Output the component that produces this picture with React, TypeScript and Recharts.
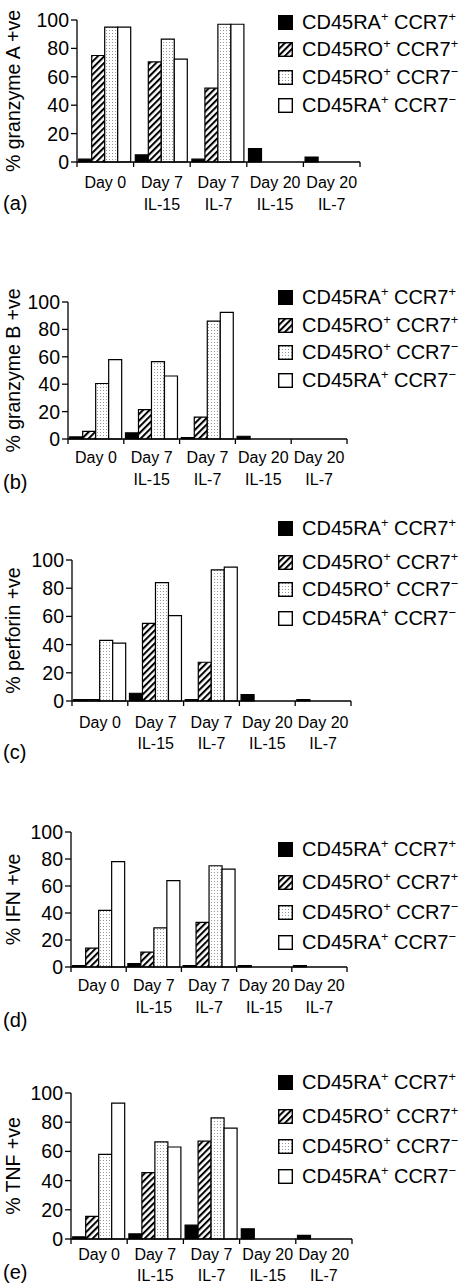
import { Bar, BarChart, XAxis, YAxis } from 'recharts'

const categories = ['Day 0', 'Day 7 IL-15', 'Day 7 IL-7', 'Day 20 IL-15', 'Day 20 IL-7']
const dayLines = ['Day 0', 'Day 7', 'Day 7', 'Day 20', 'Day 20']
const cytokineLines = ['', 'IL-15', 'IL-7', 'IL-15', 'IL-7']
const yTicks = [0, 20, 40, 60, 80, 100]

const seriesKeys = ['raPos', 'roPos', 'roNeg', 'raNeg']
const seriesMarkers = ['CD45RA', 'CD45RO', 'CD45RO', 'CD45RA']
const seriesCd45Sign = ['+', '+', '+', '+']
const seriesCcr7Sign = ['+', '+', '−', '−']

// granzyme A
const granzymeARaPos = [2, 5, 2, 9.5, 3.5]
const granzymeARoPos = [75, 70.5, 52, 0, 0]
const granzymeARoNeg = [95, 86.5, 97, 0, 0]
const granzymeARaNeg = [95, 72.5, 97, 0, 0]

// granzyme B
const granzymeBRaPos = [1.5, 4.5, 1, 2, 0]
const granzymeBRoPos = [5.5, 21.5, 16, 0, 0]
const granzymeBRoNeg = [40.5, 56.5, 86, 0, 0]
const granzymeBRaNeg = [58, 46, 92.5, 0, 0]

// perforin
const perforinRaPos = [1, 5.5, 1, 4.5, 1]
const perforinRoPos = [1, 55, 27.5, 0, 0]
const perforinRoNeg = [43, 84, 93, 0, 0]
const perforinRaNeg = [41, 60.5, 95, 0, 0]

// IFN
const ifnRaPos = [1, 2.5, 1, 1, 1]
const ifnRoPos = [14, 11, 33, 0, 0]
const ifnRoNeg = [42, 29, 75, 0, 0]
const ifnRaNeg = [78, 64, 72.5, 0, 0]

// TNF
const tnfRaPos = [1.5, 3.5, 9.5, 7, 2.5]
const tnfRoPos = [15.5, 45.5, 67, 0, 0]
const tnfRoNeg = [58, 66.5, 83, 0, 0]
const tnfRaNeg = [93, 63, 76, 0, 0]

const FONT = '"Liberation Sans", Arial, Helvetica, sans-serif'
const fills = ['#000', 'url(#hatchFill)', 'url(#dotFill)', '#fff']
const TOP_PAD = 30

type Panel = {
  letter: string
  yLabel: string
  values: number[][]
  axisX: number
  plotTop: number
  plotBottom: number
  plotRight: number
  legendY: number[]
  letterY: number
  labelDy: [number, number]
}

const panels: Panel[] = [
  {
    letter: '(a)', yLabel: '% granzyme A +ve',
    values: [granzymeARaPos, granzymeARoPos, granzymeARoNeg, granzymeARaNeg],
    axisX: 77, plotTop: 20, plotBottom: 162, plotRight: 360,
    legendY: [22, 49, 77, 105], letterY: 203, labelDy: [20, 42],
  },
  {
    letter: '(b)', yLabel: '% granzyme B +ve',
    values: [granzymeBRaPos, granzymeBRoPos, granzymeBRoNeg, granzymeBRaNeg],
    axisX: 68, plotTop: 302, plotBottom: 439, plotRight: 347,
    legendY: [297, 325, 352, 380], letterY: 482, labelDy: [18, 40],
  },
  {
    letter: '(c)', yLabel: '% perforin +ve',
    values: [perforinRaPos, perforinRoPos, perforinRoNeg, perforinRaNeg],
    axisX: 72, plotTop: 560, plotBottom: 701, plotRight: 351,
    legendY: [528, 562, 589, 618], letterY: 752, labelDy: [21, 42],
  },
  {
    letter: '(d)', yLabel: '% IFN +ve',
    values: [ifnRaPos, ifnRoPos, ifnRoNeg, ifnRaNeg],
    axisX: 71, plotTop: 832, plotBottom: 967, plotRight: 347,
    legendY: [849, 882, 912, 942], letterY: 1020, labelDy: [18, 40],
  },
  {
    letter: '(e)', yLabel: '% TNF +ve',
    values: [tnfRaPos, tnfRoPos, tnfRoNeg, tnfRaNeg],
    axisX: 71, plotTop: 1093, plotBottom: 1239, plotRight: 352,
    legendY: [1082, 1116, 1146, 1176], letterY: 1272, labelDy: [15, 36],
  },
]

function PatternDefs() {
  return (
    <svg width={0} height={0} style={{ position: 'absolute' }}>
      <defs>
        <pattern id="hatchFill" width={4.6} height={4.6} patternUnits="userSpaceOnUse" patternTransform="rotate(45)">
          <rect width={4.6} height={4.6} fill="#fff" />
          <line x1={1} y1={0} x2={1} y2={4.6} stroke="#000" strokeWidth={2.1} />
        </pattern>
        <pattern id="dotFill" width={3} height={3} patternUnits="userSpaceOnUse">
          <rect width={3} height={3} fill="#fff" />
          <rect x={1} y={1} width={1} height={1} fill="#9a9a9a" />
        </pattern>
      </defs>
    </svg>
  )
}

function LegendRows({ ys }: { ys: number[] }) {
  const sup = { fontSize: '0.64em', position: 'relative' as const, top: '-0.55em' }
  return (
    <>
      {ys.map((y, i) => (
        <div key={i} style={{ position: 'absolute', left: 278, top: y - 11, height: 22, display: 'flex', alignItems: 'center', fontFamily: FONT, fontSize: 20, whiteSpace: 'nowrap' }}>
          <svg width={15} height={15} style={{ marginRight: 9 }}>
            <rect x={0.7} y={0.7} width={13.6} height={13.6} fill={fills[i]} stroke="#000" strokeWidth={1.4} />
          </svg>
          <span>
            {seriesMarkers[i]}<span style={sup}>{seriesCd45Sign[i]}</span> CCR7<span style={sup}>{seriesCcr7Sign[i]}</span>
          </span>
        </div>
      ))}
    </>
  )
}

function ChartPanel({ panel }: { panel: Panel }) {
  const rows = categories.map((category, i) => ({
    category,
    raPos: panel.values[0][i],
    roPos: panel.values[1][i],
    roNeg: panel.values[2][i],
    raNeg: panel.values[3][i],
  }))
  const plotH = panel.plotBottom - panel.plotTop
  const bandWidth = (panel.plotRight - panel.axisX) / categories.length

  const renderTick = (props: any) => {
    const { x, y, index } = props
    const last = index === categories.length - 1
    return (
      <g>
        <line x1={x - bandWidth / 2} x2={x - bandWidth / 2} y1={y} y2={y + 5} stroke="#000" strokeWidth={1.3} />
        {last && <line x1={x + bandWidth / 2} x2={x + bandWidth / 2} y1={y} y2={y + 5} stroke="#000" strokeWidth={1.3} />}
        <text x={x} y={y + panel.labelDy[0]} textAnchor="middle" dominantBaseline="central" fontSize={16} fontFamily={FONT} fill="#000">
          {dayLines[index]}
        </text>
        <text x={x} y={y + panel.labelDy[1]} textAnchor="middle" dominantBaseline="central" fontSize={16} fontFamily={FONT} fill="#000">
          {cytokineLines[index]}
        </text>
      </g>
    )
  }

  const renderYLabel = (props: any) => {
    const vb = props.viewBox || {}
    const cy = (vb.y ?? 0) + (vb.height ?? 0) / 2
    const lx = 13
    return (
      <text x={lx} y={cy} transform={`rotate(-90 ${lx} ${cy})`} textAnchor="middle" dominantBaseline="central" fontSize={19.5} fontFamily={FONT} fill="#000">
        {panel.yLabel}
      </text>
    )
  }

  return (
    <>
      <div style={{ position: 'absolute', left: 0, top: panel.plotTop - TOP_PAD }}>
        <BarChart
          width={471}
          height={TOP_PAD + plotH + 60}
          data={rows}
          margin={{ top: TOP_PAD, right: 471 - panel.plotRight, bottom: 0, left: 0 }}
          barCategoryGap="3%"
          barGap={0}
        >
          <XAxis
            dataKey="category"
            height={60}
            interval={0}
            tickLine={false}
            tickSize={0}
            tickMargin={0}
            axisLine={{ stroke: '#000', strokeWidth: 1.3 }}
            tick={renderTick}
          />
          <YAxis
            width={panel.axisX}
            domain={[0, 100]}
            ticks={yTicks}
            interval={0}
            tickSize={6}
            tickMargin={2}
            axisLine={{ stroke: '#000', strokeWidth: 1.3 }}
            tickLine={{ stroke: '#000', strokeWidth: 1.3 }}
            tick={{ fill: '#000', fontSize: 19.5, fontFamily: FONT }}
            label={renderYLabel}
          />
          {seriesKeys.map((key, i) => (
            <Bar key={key} dataKey={key} fill={fills[i]} stroke="#000" strokeWidth={1.2} isAnimationActive={false} />
          ))}
        </BarChart>
      </div>
      <LegendRows ys={panel.legendY} />
      <div style={{ position: 'absolute', left: 3, top: panel.letterY - 11, lineHeight: '22px', fontFamily: FONT, fontSize: 20 }}>
        {panel.letter}
      </div>
    </>
  )
}

export default function App() {
  return (
    <div style={{ position: 'absolute', left: 0, top: 0, width: 471, height: 1287, background: '#fff', overflow: 'hidden' }}>
      <PatternDefs />
      {panels.map((p) => (
        <ChartPanel key={p.letter} panel={p} />
      ))}
    </div>
  )
}
